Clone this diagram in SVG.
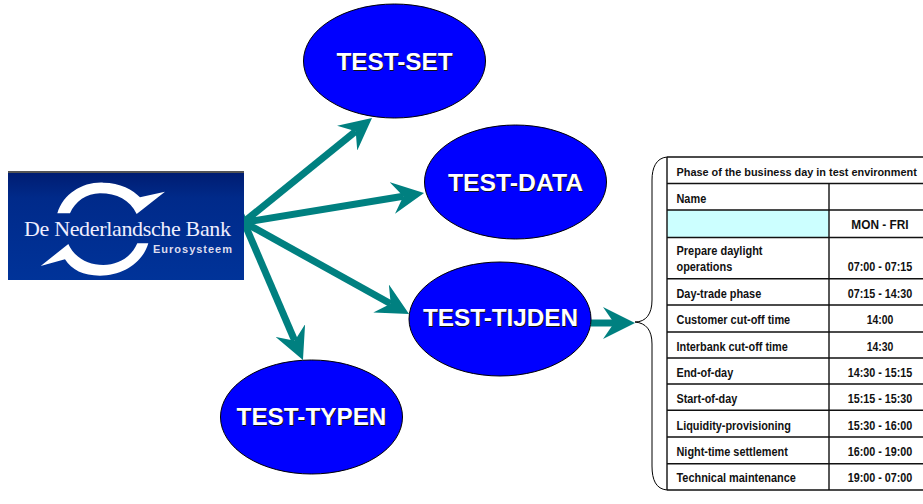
<svg xmlns="http://www.w3.org/2000/svg" width="923" height="504" viewBox="0 0 923 504">
<style>
.oval{fill:#0000ff;stroke:#000;stroke-width:1}
.ot{font:bold 24.300px "Liberation Sans",Arial,sans-serif;text-anchor:middle}
.sh{fill:#111}
.wt{fill:#fff}
.arr{fill:none;stroke:#008080;stroke-width:7;marker-end:url(#head)}
.tl{font:bold 12px "Liberation Sans",Arial,sans-serif;fill:#111}
.tc{text-anchor:middle}
.g{stroke:#111;stroke-width:1.4;fill:none}
</style>
<defs>
<marker id="head" markerUnits="userSpaceOnUse" markerWidth="32" markerHeight="32" refX="11" refY="16" orient="auto" viewBox="0 0 32 32"><path d="M32 16L0 0L11 16L0 32Z" fill="#008080"/></marker>
<linearGradient id="bg" x1="0" y1="0" x2="0" y2="1"><stop offset="0" stop-color="#001c70"/><stop offset="0.25" stop-color="#002a8a"/><stop offset="1" stop-color="#003399"/></linearGradient>
</defs>
<rect width="923" height="504" fill="#fff"/>
<g id="connectors">
<path class="arr" d="M240 225L355.700 131.200"/>
<path class="arr" d="M240 223L403.300 196.300"/>
<path class="arr" d="M240 220L390.700 303.800"/>
<path class="arr" d="M240 213L294.700 340.700"/>
<path class="arr" d="M591 323L614 323"/>
</g>
<g id="logo">
<rect x="8" y="171" width="236" height="109" fill="url(#bg)"/>
<rect x="8" y="171" width="236" height="2" fill="#555"/>
<g transform="translate(0 160) scale(.3333)" fill="#fff">
<path d="M172 160C190 100 250 65 310 68C360 68 400 90 420 112L495 95L410 162C390 120 350 100 300 100C260 100 225 125 210 160Z"/>
<path d="M122 318L205 252C225 295 265 315 310 315C355 315 395 290 412 250L445 250C430 305 370 347 300 347C250 347 215 330 195 298Z"/>
</g>
<text x="24" y="236" font-family="Liberation Serif,serif" font-size="22" fill="#eef" textLength="207">De Nederlandsche Bank</text>
<text x="153" y="253" font-family="Liberation Sans,sans-serif" font-weight="bold" font-size="11" fill="#dde" textLength="79">Eurosysteem</text>
</g>
<g id="test-set"><ellipse class="oval" cx="394.500" cy="61" rx="91" ry="57"/><text class="ot sh" x="395.500" y="71">TEST-SET</text><text class="ot wt" x="394.500" y="70">TEST-SET</text></g>
<g id="test-data"><ellipse class="oval" cx="515.500" cy="182" rx="91" ry="57"/><text class="ot sh" x="516.500" y="192" textLength="135" lengthAdjust="spacingAndGlyphs">TEST-DATA</text><text class="ot wt" x="515.500" y="191" textLength="135" lengthAdjust="spacingAndGlyphs">TEST-DATA</text></g>
<g id="test-tijden"><ellipse class="oval" cx="500" cy="319" rx="91" ry="57"/><text class="ot sh" x="501.500" y="327">TEST-TIJDEN</text><text class="ot wt" x="500.500" y="326">TEST-TIJDEN</text></g>
<g id="test-typen"><ellipse class="oval" cx="311.500" cy="417" rx="91" ry="57"/><text class="ot sh" x="312.500" y="426">TEST-TYPEN</text><text class="ot wt" x="311.500" y="425">TEST-TYPEN</text></g>
<g id="brace"><path d="M667 157C656 158 652 168 652 180L652 300C652 314 646 322 635 322C646 323 652 330 652 344L652 466C652 480 656 489 667 490" fill="none" stroke="#000" stroke-width="1"/></g>
<g id="schedule-table">
<rect x="667" y="210" width="162" height="27.500" fill="#ccffff"/>
<path class="g" d="M667 157H923M667 183.500H923M667 210H923M667 237.500H923M667 278.700H923M667 305H923M667 332H923M667 358H923M667 384H923M667 410.300H923M667 437H923M667 463.700H923M667 490H923M667 157V490M829 183.500V490"/>
<text class="tl" style="font-size:11.200px" x="676.500" y="176" textLength="240.300" lengthAdjust="spacingAndGlyphs">Phase of the business day in test environment</text>
<text class="tl" x="676.500" y="203" textLength="29.700" lengthAdjust="spacingAndGlyphs">Name</text>
<text class="tl tc" style="font-size:12.500px" x="880" y="228.500" textLength="57.300" lengthAdjust="spacingAndGlyphs">MON - FRI</text>
<text class="tl" x="676.500" y="254.500" textLength="86" lengthAdjust="spacingAndGlyphs">Prepare daylight</text>
<text class="tl" x="676.500" y="271" textLength="55.700" lengthAdjust="spacingAndGlyphs">operations</text>
<text class="tl tc" x="880" y="271" textLength="64.700" lengthAdjust="spacingAndGlyphs">07:00 - 07:15</text>
<text class="tl" x="676.500" y="297.500" textLength="84.700" lengthAdjust="spacingAndGlyphs">Day-trade phase</text>
<text class="tl tc" x="880" y="297.500" textLength="64.700" lengthAdjust="spacingAndGlyphs">07:15 - 14:30</text>
<text class="tl" x="676.500" y="323.500" textLength="113.700" lengthAdjust="spacingAndGlyphs">Customer cut-off time</text>
<text class="tl tc" x="880" y="323.500" textLength="26.700" lengthAdjust="spacingAndGlyphs">14:00</text>
<text class="tl" x="676.500" y="350.500" textLength="111.300" lengthAdjust="spacingAndGlyphs">Interbank cut-off time</text>
<text class="tl tc" x="880" y="350.500" textLength="26.700" lengthAdjust="spacingAndGlyphs">14:30</text>
<text class="tl" x="676.500" y="376.500" textLength="56.700" lengthAdjust="spacingAndGlyphs">End-of-day</text>
<text class="tl tc" x="880" y="376.500" textLength="64.700" lengthAdjust="spacingAndGlyphs">14:30 - 15:15</text>
<text class="tl" x="676.500" y="402.500" textLength="60.700" lengthAdjust="spacingAndGlyphs">Start-of-day</text>
<text class="tl tc" x="880" y="402.500" textLength="64.700" lengthAdjust="spacingAndGlyphs">15:15 - 15:30</text>
<text class="tl" x="676.500" y="429.500" textLength="114.300" lengthAdjust="spacingAndGlyphs">Liquidity-provisioning</text>
<text class="tl tc" x="880" y="429.500" textLength="64.700" lengthAdjust="spacingAndGlyphs">15:30 - 16:00</text>
<text class="tl" x="676.500" y="455.500" textLength="111.300" lengthAdjust="spacingAndGlyphs">Night-time settlement</text>
<text class="tl tc" x="880" y="455.500" textLength="64.700" lengthAdjust="spacingAndGlyphs">16:00 - 19:00</text>
<text class="tl" x="676.500" y="482" textLength="119.300" lengthAdjust="spacingAndGlyphs">Technical maintenance</text>
<text class="tl tc" x="880" y="482" textLength="64.700" lengthAdjust="spacingAndGlyphs">19:00 - 07:00</text>
</g>
</svg>
